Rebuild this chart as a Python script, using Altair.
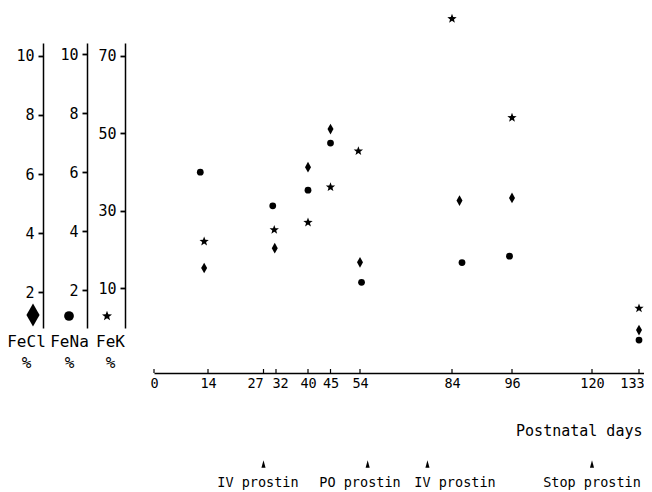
import math
import altair as alt
import pandas as pd

# ---------------- data ----------------
tick_days = [0, 14, 27, 32, 40, 45, 54, 84, 96, 120, 133]

fecl_days = [13, 31.5, 40, 45, 54, 85.5, 96, 133]
fecl_vals = [2.82, 3.49, 6.23, 7.52, 3.01, 5.10, 5.19, 0.72]

fena_days = [12, 30.7, 40, 45, 54.5, 86, 95.5, 133]
fena_vals = [6.00, 4.86, 5.39, 6.99, 2.26, 2.93, 3.15, 0.30]

fek_days = [13, 31.3, 40, 45, 53.5, 84, 96, 133]
fek_vals = [22.1, 25.1, 27.0, 36.1, 45.4, 79.5, 54.0, 4.87]

event_days = [27, 56.5, 76, 120]
event_label_days = [25.7, 54, 84.6, 120]
event_labels = ["IV prostin", "PO prostin", "IV prostin", "Stop prostin"]

fecl_ticks = [2, 4, 6, 8, 10]
fena_ticks = [2, 4, 6, 8, 10]
fek_ticks = [10, 30, 50, 70]

# ---------------- layout / style ----------------
FONT = "DejaVu Sans Mono"
W, H = 490, 285
XOFF = 45

# hand-drawn (uneven) day axis -> piecewise linear scale
x_domain = tick_days + [135]
x_range = [0, 54, 109.5, 122, 154, 176.5, 206, 298, 358, 438, 485, 490]

def star_path(inner=0.42):
    pts = []
    for i in range(10):
        a = math.radians(-90 + 36 * i)
        r = 1.0 if i % 2 == 0 else inner
        pts.append(f"{r*math.cos(a):.3f},{r*math.sin(a):.3f}")
    return "M" + "L".join(pts) + "Z"

DIAMOND = "M0,-1L0.56,0L0,1L-0.56,0Z"
STAR = star_path()
ARROW = "M0,-1L0.55,1L-0.55,1Z"

# crowded labels are nudged apart, as in the original drawing
label_nudge = {
    "condition": [
        {"test": "datum.value == 27", "value": -8.5},
        {"test": "datum.value == 32", "value": 4},
        {"test": "datum.value == 133", "value": -7},
    ],
    "value": 0,
}

x_axis = alt.Axis(
    values=tick_days, ticks=False, grid=False, offset=XOFF,
    labelFontSize=13.5, labelPadding=3, labelFlush=False, labelOverlap=False,
    labelOffset=label_nudge,
    domainWidth=1.5, title="Postnatal days", titleX=488, titleY=62,
    titleAlign="right", titleBaseline="alphabetic", titleFontSize=15,
    titleFontWeight="normal",
)
x_scale = alt.Scale(domain=x_domain, range=x_range, nice=False, zero=False)

def xenc():
    return alt.X("day:Q", scale=x_scale, axis=x_axis)

def yaxis(offset, ticks, title, tx, ty):
    return alt.Axis(
        orient="left", offset=offset, values=ticks, grid=False,
        tickSize=5, tickWidth=1.8, domainWidth=1.5, labelPadding=4,
        labelFontSize=15, labelOverlap=False, title=title, titleAngle=0,
        titleX=tx, titleY=ty, titleAlign="center", titleBaseline="alphabetic",
        titleFontSize=16, titleLineHeight=21, titleFontWeight="normal",
    )

df_cl = pd.DataFrame({"day": fecl_days, "v": fecl_vals})
df_na = pd.DataFrame({"day": fena_days, "v": fena_vals})
df_k = pd.DataFrame({"day": fek_days, "v": fek_vals})

cl = alt.Chart(df_cl).mark_point(shape=DIAMOND, filled=True, size=114, color="black", opacity=1).encode(
    x=xenc(),
    y=alt.Y("v:Q", scale=alt.Scale(domain=[0.789, 10.433], nice=False, zero=False),
            axis=yaxis(111, fecl_ticks, ["FeCl", "%\u00a0"], -17, 303.7)),
)
na = alt.Chart(df_na).mark_point(shape="circle", filled=True, size=46, color="black", opacity=1).encode(
    x=xenc(),
    y=alt.Y("v:Q", scale=alt.Scale(domain=[0.710, 10.387], nice=False, zero=False),
            axis=yaxis(67, fena_ticks, ["FeNa", "%"], -18, 303.7)),
)
k = alt.Chart(df_k).mark_point(shape=STAR, filled=True, size=96, color="black", opacity=1).encode(
    x=xenc(),
    y=alt.Y("v:Q", scale=alt.Scale(domain=[-0.206, 73.25], nice=False, zero=False),
            axis=yaxis(29, fek_ticks, ["FeK", "%"], -15, 303.7)),
)

# small upward tick marks on the day axis
df_ticks = pd.DataFrame({"day": tick_days})
xticks = alt.Chart(df_ticks).mark_rule(color="black", strokeWidth=1.2).encode(
    x=xenc(), y=alt.value(H + XOFF - 4), y2=alt.value(H + XOFF)
)

# key symbols under the three left axes
one = pd.DataFrame({"k": [0]})
key_cl = alt.Chart(one).mark_point(shape="M0,-1L0.57,0L0,1L-0.57,0Z", filled=True, size=529,
                                   color="black", opacity=1).encode(x=alt.value(33 - 154), y=alt.value(272))
key_na = alt.Chart(one).mark_point(shape="circle", filled=True, size=95,
                                   color="black", opacity=1).encode(x=alt.value(69 - 154), y=alt.value(273))
key_k = alt.Chart(one).mark_point(shape=STAR, filled=True, size=110,
                                  color="black", opacity=1).encode(x=alt.value(107 - 154), y=alt.value(273))

# treatment events
df_ev = pd.DataFrame({"day": event_days})
df_evl = pd.DataFrame({"day": event_label_days, "label": event_labels})
arrows = alt.Chart(df_ev).mark_point(shape=ARROW, filled=True, size=56, color="black", opacity=1).encode(
    x=xenc(), y=alt.value(421)
)
ev_text = alt.Chart(df_evl).mark_text(font=FONT, fontSize=13.5, baseline="alphabetic",
                                      align="center", color="black").encode(
    x=xenc(), y=alt.value(443.7), text="label:N"
)

chart = alt.layer(cl, na, k, xticks, key_cl, key_na, key_k, arrows, ev_text).resolve_scale(
    y="independent"
).properties(
    width=W, height=H,
    autosize=alt.AutoSizeParams(type="none"),
    padding={"left": 146, "top": 35, "right": 0, "bottom": 164},
).configure_view(stroke=None).configure_axis(
    labelFont=FONT, titleFont=FONT, labelColor="black", titleColor="black",
    domainColor="black", tickColor="black",
)

chart.save("out.html", embed_options={"renderer": "svg", "actions": False})
